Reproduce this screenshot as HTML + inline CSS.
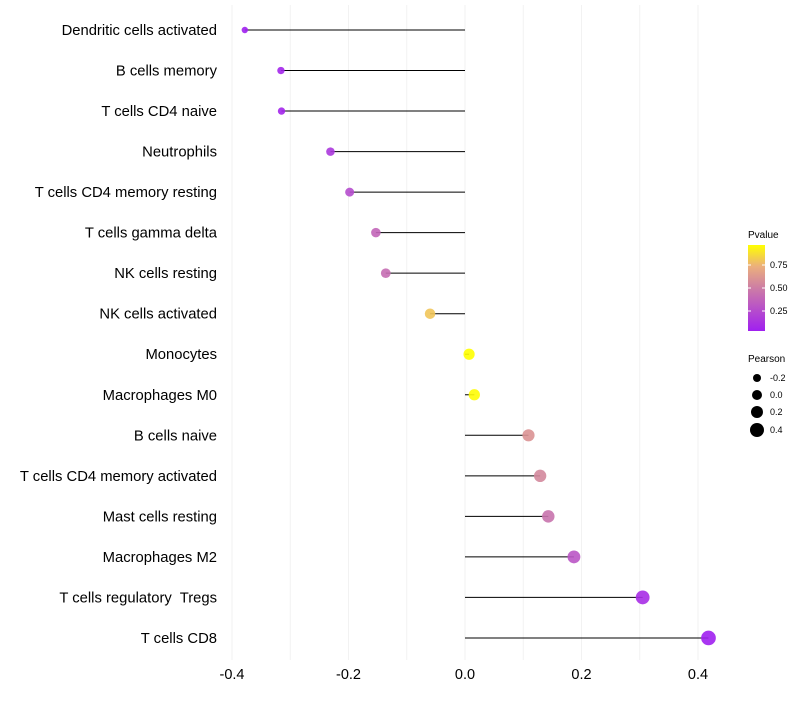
<!DOCTYPE html>
<html><head><meta charset="utf-8"><style>
body{margin:0;background:#fff;font-family:"Liberation Sans",sans-serif}
</style></head><body>
<svg id="chart" width="800" height="700" xmlns="http://www.w3.org/2000/svg">
<defs><linearGradient id="pg" x1="0" y1="1" x2="0" y2="0">
<stop offset="0" stop-color="#a020f0"/><stop offset="0.5" stop-color="#cd7da5"/><stop offset="0.75" stop-color="#ebaf7d"/><stop offset="1" stop-color="#ffff00"/></linearGradient></defs>
<g id="grid"></g><g id="marks"></g><g id="labels"></g>
<g font-size="9">
<text x="748" y="238" font-size="10">Pvalue</text>
<rect x="748" y="245" width="17" height="86" fill="url(#pg)"/>
<line x1="748" x2="751" y1="265" y2="265" stroke="#fff"/><line x1="762" x2="765" y1="265" y2="265" stroke="#fff"/>
<line x1="748" x2="751" y1="288" y2="288" stroke="#fff"/><line x1="762" x2="765" y1="288" y2="288" stroke="#fff"/>
<line x1="748" x2="751" y1="311" y2="311" stroke="#fff"/><line x1="762" x2="765" y1="311" y2="311" stroke="#fff"/>
<text x="770" y="268">0.75</text><text x="770" y="291">0.50</text><text x="770" y="314">0.25</text>
</g>
<g font-size="9">
<text x="748" y="362" font-size="10">Pearson</text>
<circle cx="757" cy="378" r="4"/><text x="770" y="381">-0.2</text>
<circle cx="757" cy="395" r="5"/><text x="770" y="398">0.0</text>
<circle cx="757" cy="412" r="6"/><text x="770" y="415">0.2</text>
<circle cx="757" cy="430" r="7"/><text x="770" y="433">0.4</text>
</g>
</svg>
<script>
const categories=["Dendritic cells activated","B cells memory","T cells CD4 naive","Neutrophils","T cells CD4 memory resting","T cells gamma delta","NK cells resting","NK cells activated","Monocytes","Macrophages M0","B cells naive","T cells CD4 memory activated","Mast cells resting","Macrophages M2","T cells regulatory  Tregs","T cells CD8"];
const pearson=[-0.378,-0.316,-0.315,-0.231,-0.198,-0.153,-0.136,-0.06,0.007,0.016,0.109,0.129,0.143,0.187,0.305,0.418];
const pvalue=[0.03,0.06,0.06,0.15,0.25,0.38,0.42,0.8,0.98,0.96,0.6,0.55,0.45,0.3,0.1,0.03];
const xTicks=[-0.4,-0.2,0.0,0.2,0.4];
const xGrid=[-0.4,-0.3,-0.2,-0.1,0,0.1,0.2,0.3,0.4];
const NS="http://www.w3.org/2000/svg";
const X=v=>465+v*582.5;
const Y=i=>30+i*40.53;
function mk(t,a,p){const e=document.createElementNS(NS,t);for(const k in a)e.setAttribute(k,a[k]);document.getElementById(p).appendChild(e);return e;}
function lerp(a,b,t){return a.map((x,i)=>Math.round(x+(b[i]-x)*t));}
const stops=[[0,[160,32,240]],[0.5,[205,125,165]],[0.75,[235,175,125]],[1,[255,255,0]]];
function col(p){const t=Math.max(0,Math.min(1,(p-0.03)/0.94));for(let k=1;k<stops.length;k++){if(t<=stops[k][0]){const a=stops[k-1],b=stops[k];return `rgb(${lerp(a[1],b[1],(t-a[0])/(b[0]-a[0]))})`;}}return 'rgb(255,255,0)';}
xGrid.forEach(v=>{const l=mk("line",{x1:X(v),x2:X(v),y1:5,y2:660,stroke:"#f2f2f2","stroke-width":1},"grid");

});
xTicks.forEach(v=>{const t=mk("text",{x:X(v),y:679,"text-anchor":"middle","font-size":14.5,fill:"#000"},"labels");t.textContent=v.toFixed(1);

});
categories.forEach((c,i)=>{
const t=mk("text",{x:217,y:Y(i)+5,"text-anchor":"end","font-size":14.8,fill:"#000"},"labels");t.setAttribute("style","white-space:pre");t.textContent=c;


const l=mk("line",{x1:X(0),x2:X(pearson[i]),y1:Y(i),y2:Y(i),stroke:"#000","stroke-width":1},"marks");


const r=Math.sqrt(Math.max(2.5,31+55*pearson[i]));
const d=mk("circle",{cx:X(pearson[i]),cy:Y(i),r:r,fill:col(pvalue[i]),"fill-opacity":0.9},"marks");


});
</script>
</body></html>
